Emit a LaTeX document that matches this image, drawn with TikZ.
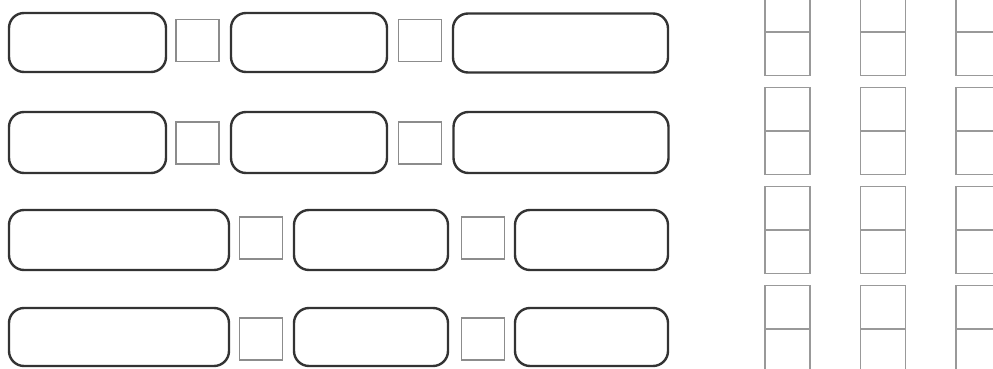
\documentclass[tikz,border=0pt]{standalone}
\begin{document}
\begin{tikzpicture}[x=1pt,y=-1pt,
  rbox/.style={draw=black!80, line width=2.4pt, rounded corners=15pt, inner sep=0pt, fill=none},
  sq/.style={draw=black!45, line width=1.8pt, inner sep=0pt, minimum width=43pt, minimum height=42pt},
  cell/.style={draw=black!40, line width=1.1pt, inner sep=0pt, minimum width=45pt, minimum height=43pt}]
\useasboundingbox (0,0) rectangle (993,369);
\clip (0,0) rectangle (993,369);
% row 1
\node[rbox, minimum width=157pt, minimum height=59pt] (a1) at (87.5,42.5) {};
\node[sq] (s11) at (197.5,40.5) {};
\node[rbox, minimum width=156pt, minimum height=59pt] (b1) at (309,42.5) {};
\node[sq] (s12) at (420,40.5) {};
\node[rbox, minimum width=215pt, minimum height=59pt] (c1) at (560.5,43) {};
% row 2
\node[rbox, minimum width=157pt, minimum height=61pt] (a2) at (87.5,142.5) {};
\node[sq] (s21) at (197.5,143) {};
\node[rbox, minimum width=156pt, minimum height=61pt] (b2) at (309,142.5) {};
\node[sq] (s22) at (420,143) {};
\node[rbox, minimum width=215pt, minimum height=61pt] (c2) at (561,142.5) {};
% row 3
\node[rbox, minimum width=220pt, minimum height=60pt] (a3) at (119,240) {};
\node[sq] (s31) at (261,238) {};
\node[rbox, minimum width=154pt, minimum height=60pt] (b3) at (371,240) {};
\node[sq] (s32) at (483,238) {};
\node[rbox, minimum width=153pt, minimum height=60pt] (c3) at (591.5,240) {};
% row 4
\node[rbox, minimum width=220pt, minimum height=58pt] (a4) at (119,337) {};
\node[sq] (s41) at (261,339) {};
\node[rbox, minimum width=154pt, minimum height=58pt] (b4) at (371,337) {};
\node[sq] (s42) at (483,339) {};
\node[rbox, minimum width=153pt, minimum height=58pt] (c4) at (591.5,337) {};
% right grid
\foreach \cx/\cn in {787.5/p,883/q,978.5/r}{
  \foreach \ty/\rn in {-12/1,87/2,186/3,285/4}{
    \node[cell, anchor=north] (\cn\rn-u) at (\cx,\ty) {};
    \node[cell, anchor=north] (\cn\rn-l) at (\cn\rn-u.south) {};
  }
}
\end{tikzpicture}
\end{document}
